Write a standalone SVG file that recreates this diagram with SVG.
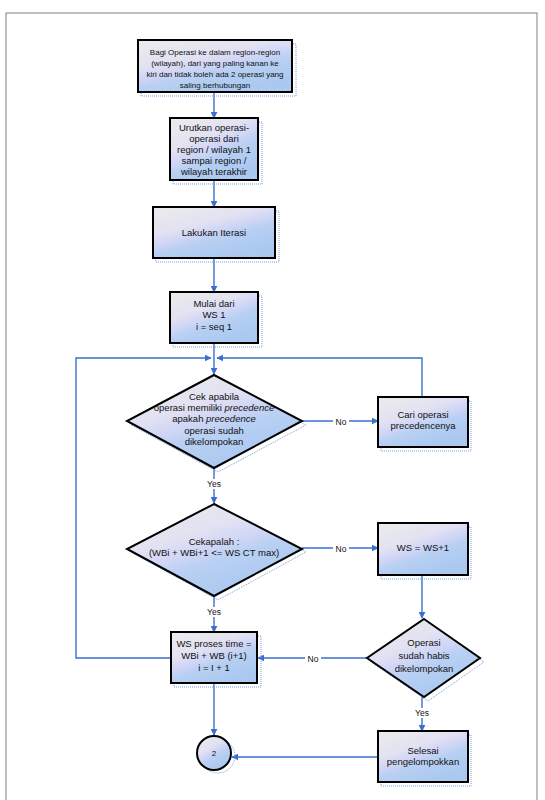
<svg xmlns="http://www.w3.org/2000/svg" width="545" height="800" viewBox="0 0 545 800">
<style>
.n{stroke:#000;stroke-width:2;fill:url(#g)}
.sh{fill:none;stroke:#7a9ee0;stroke-width:1;stroke-dasharray:1 1}
.c{fill:none;stroke:#3a6fd0;stroke-width:1.4}
text{font-family:"Liberation Sans",Arial,sans-serif;font-size:8.5px;fill:#111;text-anchor:middle}
.s{font-size:8px}
.l{font-size:9.5px}
</style>
<defs>
<linearGradient id="g" x1="0" y1="0" x2="0.6" y2="1">
<stop offset="0" stop-color="#ececec"/>
<stop offset="0.4" stop-color="#e2e2f2"/>
<stop offset="0.55" stop-color="#d2d6f6"/>
<stop offset="0.68" stop-color="#b8d0f3"/>
<stop offset="1" stop-color="#aac8f0"/>
</linearGradient>
<marker id="a" viewBox="0 0 10 10" refX="9" refY="5" markerWidth="7" markerHeight="7" orient="auto" markerUnits="userSpaceOnUse">
<path d="M0,0 L10,5 L0,10 z" fill="#3a6fd0"/>
</marker>
</defs>
<rect x="0" y="0" width="545" height="800" fill="#fff"/>
<rect x="6" y="13" width="531" height="800" fill="none" stroke="#808080" stroke-width="1"/>

<g id="connectors">
<line class="c" x1="214" y1="92" x2="214" y2="118" marker-end="url(#a)"/>
<line class="c" x1="214" y1="180" x2="214" y2="207" marker-end="url(#a)"/>
<line class="c" x1="214" y1="258" x2="214" y2="292" marker-end="url(#a)"/>
<line class="c" x1="214" y1="343" x2="214" y2="374" marker-end="url(#a)"/>
<polyline class="c" points="171,658 76,658 76,358 211,358" marker-end="url(#a)"/>
<polyline class="c" points="422,397 422,358 217,358" marker-end="url(#a)"/>
<line class="c" x1="302" y1="421" x2="378" y2="421" marker-end="url(#a)"/>
<line class="c" x1="214" y1="468" x2="214" y2="503" marker-end="url(#a)"/>
<line class="c" x1="302" y1="548" x2="378" y2="548" marker-end="url(#a)"/>
<line class="c" x1="422" y1="575" x2="422" y2="618" marker-end="url(#a)"/>
<line class="c" x1="214" y1="596" x2="214" y2="632" marker-end="url(#a)"/>
<line class="c" x1="367" y1="658" x2="258" y2="658" marker-end="url(#a)"/>
<line class="c" x1="422" y1="697" x2="422" y2="731" marker-end="url(#a)"/>
<line class="c" x1="214" y1="683" x2="214" y2="735" marker-end="url(#a)"/>
<line class="c" x1="378" y1="757" x2="232" y2="757" marker-end="url(#a)"/>
<rect x="333" y="416" width="16" height="10" fill="#fff"/>
<text x="341" y="425">No</text>
<rect x="333" y="543" width="16" height="10" fill="#fff"/>
<text x="341" y="552">No</text>
<rect x="305" y="653" width="16" height="10" fill="#fff"/>
<text x="313" y="662">No</text>
<rect x="204" y="479" width="20" height="10" fill="#fff"/>
<text x="214" y="487">Yes</text>
<rect x="204" y="607" width="20" height="10" fill="#fff"/>
<text x="214" y="615">Yes</text>
<rect x="412" y="708" width="20" height="10" fill="#fff"/>
<text x="422" y="716">Yes</text>
</g>

<g id="n1">
<rect class="sh" x="141" y="44" width="155" height="52"/>
<rect class="n" x="138" y="40" width="154" height="52"/>
<text class="s" x="215" y="55">Bagi Operasi ke dalam region-region</text>
<text class="s" x="215" y="66">(wilayah), dari yang paling kanan ke</text>
<text class="s" x="215" y="77">kiri dan tidak boleh ada 2 operasi yang</text>
<text class="s" x="215" y="88">saling berhubungan</text>
</g>

<g id="n2">
<rect class="sh" x="173" y="122" width="89" height="62"/>
<rect class="n" x="170" y="118" width="88" height="62"/>
<text class="l" x="214" y="131">Urutkan operasi-</text>
<text class="l" x="214" y="142">operasi dari</text>
<text class="l" x="214" y="153">region / wilayah 1</text>
<text class="l" x="214" y="164">sampai region /</text>
<text class="l" x="214" y="175">wilayah terakhir</text>
</g>

<g id="n3">
<rect class="sh" x="156" y="211" width="123" height="51"/>
<rect class="n" x="153" y="207" width="122" height="51"/>
<text class="l" x="214" y="236">Lakukan Iterasi</text>
</g>

<g id="n4">
<rect class="sh" x="173" y="296" width="89" height="51"/>
<rect class="n" x="170" y="292" width="88" height="51"/>
<text class="l" x="214" y="307">Mulai dari</text>
<text class="l" x="214" y="318">WS 1</text>
<text class="l" x="214" y="330">i  = seq 1</text>
</g>

<g id="d1">
<polygon class="sh" points="218,378 306,425 218,472 131,425"/>
<polygon class="n" points="214,375 302,421 214,468 127,421"/>
<text class="l" x="214" y="400">Cek apabila</text>
<text class="l" x="214" y="411">operasi memiliki <tspan font-style="italic">precedence</tspan></text>
<text class="l" x="214" y="422">apakah <tspan font-style="italic">precedence</tspan></text>
<text class="l" x="214" y="434">operasi sudah</text>
<text class="l" x="214" y="445">dikelompokan</text>
</g>

<g id="n5">
<rect class="sh" x="381" y="401" width="90" height="50"/>
<rect class="n" x="378" y="397" width="90" height="50"/>
<text class="l" x="423" y="418">Cari operasi</text>
<text class="l" x="423" y="429">precedencenya</text>
</g>

<g id="d2">
<polygon class="sh" points="218,507 306,552 218,600 131,552"/>
<polygon class="n" points="214,504 302,549 214,596 127,549"/>
<text class="l" x="214" y="545">Cekapalah :</text>
<text class="l" x="214" y="556">(WBi  + WBi+1  &lt;= WS CT max)</text>
</g>

<g id="n6">
<rect class="sh" x="381" y="527" width="90" height="52"/>
<rect class="n" x="378" y="523" width="90" height="52"/>
<text class="l" x="423" y="551">WS = WS+1</text>
</g>

<g id="d3">
<polygon class="sh" points="428,622 484,662 428,701 371,662"/>
<polygon class="n" points="424,619 480,658 424,697 367,658"/>
<text class="l" x="424" y="646">Operasi</text>
<text class="l" x="424" y="659">sudah habis</text>
<text class="l" x="424" y="672">dikelompokan</text>
</g>

<g id="n7">
<rect class="sh" x="174" y="636" width="87" height="51"/>
<rect class="n" x="171" y="632" width="86" height="51"/>
<text class="l" x="214" y="647">WS proses time =</text>
<text class="l" x="214" y="659">WBi + WB (i+1)</text>
<text class="l" x="214" y="671">i = I + 1</text>
</g>

<g id="n8">
<rect class="sh" x="381" y="735" width="90" height="51"/>
<rect class="n" x="378" y="731" width="90" height="51"/>
<text class="l" x="423" y="754">Selesai</text>
<text class="l" x="423" y="765">pengelompokkan</text>
</g>

<g id="c2">
<circle class="sh" cx="218" cy="756" r="17"/>
<circle class="n" cx="214" cy="753" r="17"/>
<text class="s" x="214" y="756">2</text>
</g>
</svg>
